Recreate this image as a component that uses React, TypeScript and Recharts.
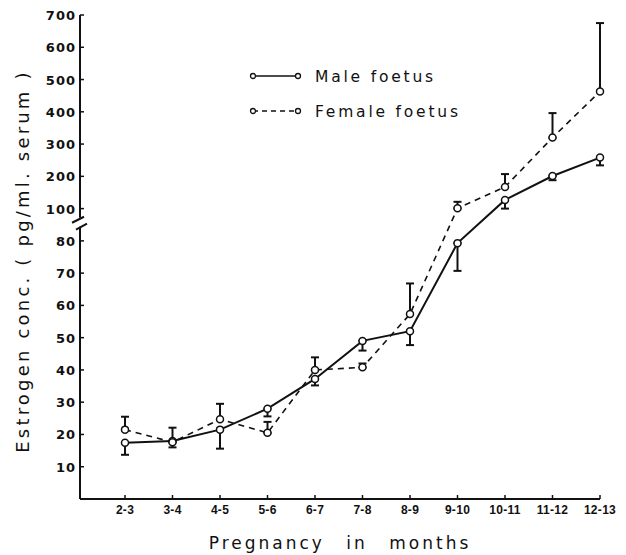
import { LineChart, Line, XAxis, YAxis, ErrorBar, Legend, Label } from "recharts";

// estrogen in foetal serum (pg/ml), mean and SE per month of pregnancy
const months = ["2-3", "3-4", "4-5", "5-6", "6-7", "7-8", "8-9", "9-10", "10-11", "11-12", "12-13"];
const maleMean = [17.4, 18, 21.5, 28, 37.2, 49, 52, 79.3, 127, 201, 258];
const maleSE = [3.7, 2, 5.9, 2.4, 2, 3, 4.3, 8.6, 27, 13, 24];
const femaleMean = [21.5, 17.6, 24.7, 20.5, 40, 40.8, 57.3, 101, 167, 320, 463];
const femaleSE = [4, 4.5, 4.8, 3.4, 3.9, 1.2, 9.5, 20, 40, 76, 212];

const lowTicks = [10, 20, 30, 40, 50, 60, 70, 80];
const highTicks = [100, 200, 300, 400, 500, 600, 700];
const BREAK = 85;

// broken axis: 0-80 as is, 100-700 squeezed 10x on top of it
const toAxis = (v: number) => (v <= 80 ? v : v < 100 ? 80 + (v - 80) / 2 : 90 + (v - 100) / 10);
const fromAxis = (t: number) => (t <= 80 ? t : t < 90 ? 80 + (t - 80) * 2 : 100 + (t - 90) * 10);

const data = months.map((m, i) => {
  const mt = toAxis(maleMean[i]);
  const ft = toAxis(femaleMean[i]);
  return {
    month: m,
    male: mt,
    maleErr: [mt - toAxis(maleMean[i] - maleSE[i]), 0],
    female: ft,
    femaleErr: [0, toAxis(femaleMean[i] + femaleSE[i]) - ft],
  };
});

const yTicks = [...lowTicks, BREAK, ...highTicks.map(toAxis)];
const INK = "#111";

const YTick = (props: any) => {
  const { x, y, payload } = props;
  if (payload.value === BREAK) {
    return (
      <g>
        <rect x={x - 3} y={y - 7} width={6} height={9} fill="#fff" />
        <line x1={x - 8} y1={y - 2} x2={x + 4} y2={y - 8} stroke={INK} strokeWidth={2} />
        <line x1={x - 4} y1={y + 5} x2={x + 7} y2={y - 1} stroke={INK} strokeWidth={2} />
      </g>
    );
  }
  return (
    <g>
      <line x1={x} y1={y} x2={x + 4} y2={y} stroke={INK} strokeWidth={1.5} />
      <text
        x={x - 4}
        y={y + 5}
        textAnchor="end"
        fontFamily="DejaVu Sans"
        fontWeight="bold"
        fontSize={13}
        letterSpacing={1}
        fill={INK}
      >
        {Math.round(fromAxis(payload.value))}
      </text>
    </g>
  );
};

const XTick = (props: any) => {
  const { x, y, payload } = props;
  return (
    <g>
      <line x1={x} y1={y} x2={x} y2={y - 4} stroke={INK} strokeWidth={1.5} />
      <text
        x={x}
        y={y + 15}
        textAnchor="middle"
        fontFamily="Liberation Sans"
        fontWeight="bold"
        fontSize={12}
        letterSpacing={0.3}
        fill={INK}
      >
        {payload.value}
      </text>
    </g>
  );
};

const YTitle = (props: any) => {
  const { viewBox } = props;
  const cx = 22;
  const cy = viewBox.y + viewBox.height / 2 + 4;
  return (
    <text
      x={cx}
      y={cy}
      transform={`rotate(-90 ${cx} ${cy})`}
      textAnchor="middle"
      dominantBaseline="central"
      fontFamily="DejaVu Sans"
      fontSize={18}
      letterSpacing={3.2}
      fill={INK}
    >
      Estrogen conc. ( pg/ml. serum )
    </text>
  );
};

const legendRows = [
  { name: "Male foetus", dash: undefined },
  { name: "Female foetus", dash: "5 4" },
];

const LegendBox = () => (
  <svg width={240} height={60}>
    {legendRows.map((r, i) => {
      const y = 12 + i * 35;
      return (
        <g key={r.name}>
          <line x1={5} y1={y} x2={50} y2={y} stroke={INK} strokeWidth={1.6} strokeDasharray={r.dash} />
          <circle cx={5} cy={y} r={2.5} fill="#fff" stroke={INK} strokeWidth={1.3} />
          <circle cx={50} cy={y} r={2.5} fill="#fff" stroke={INK} strokeWidth={1.3} />
          <text x={67} y={y + 6} fontFamily="DejaVu Sans" fontSize={15.5} letterSpacing={2.8} fill={INK}>
            {r.name}
          </text>
        </g>
      );
    })}
  </svg>
);

export default function App() {
  return (
    <div style={{ position: "absolute", left: 0, top: 0, background: "#fff" }}>
      <LineChart width={626} height={555} data={data} margin={{ top: 15, right: 26, bottom: 0, left: 0 }}>
        <XAxis
          dataKey="month"
          height={56}
          padding={{ left: 45, right: 0 }}
          axisLine={{ stroke: INK, strokeWidth: 2 }}
          tickLine={false}
          tickSize={0}
          tickMargin={0}
          interval={0}
          tick={<XTick />}
        >
          <Label
            value="Pregnancy in months"
            position="insideBottom"
            offset={6}
            style={{ fontFamily: "DejaVu Sans", fontSize: 17, letterSpacing: 3, wordSpacing: 13, fill: INK }}
          />
        </XAxis>
        <YAxis
          type="number"
          width={80}
          domain={[0, 150]}
          ticks={yTicks}
          interval={0}
          allowDataOverflow
          axisLine={{ stroke: INK, strokeWidth: 2 }}
          tickLine={false}
          tickSize={0}
          tickMargin={0}
          tick={<YTick />}
        >
          <Label content={<YTitle />} />
        </YAxis>
        <Legend
          layout="horizontal"
          verticalAlign="middle"
          align="center"
          content={() => <LegendBox />}
          wrapperStyle={{ position: "absolute", left: 248, top: 64, width: 240, height: 60 }}
        />
        <Line
          name="Male foetus"
          type="linear"
          dataKey="male"
          stroke={INK}
          strokeWidth={2}
          dot={{ r: 3.5, fill: "#fff", stroke: INK, strokeWidth: 1.5 }}
          activeDot={false}
          isAnimationActive={false}
        >
          <ErrorBar dataKey="maleErr" width={4} stroke={INK} strokeWidth={2} direction="y" />
        </Line>
        <Line
          name="Female foetus"
          type="linear"
          dataKey="female"
          stroke={INK}
          strokeWidth={1.6}
          strokeDasharray="6 5"
          dot={{ r: 3.5, fill: "#fff", stroke: INK, strokeWidth: 1.5, strokeDasharray: "0" }}
          activeDot={false}
          isAnimationActive={false}
        >
          <ErrorBar dataKey="femaleErr" width={4} stroke={INK} strokeWidth={2} direction="y" />
        </Line>
      </LineChart>
    </div>
  );
}
